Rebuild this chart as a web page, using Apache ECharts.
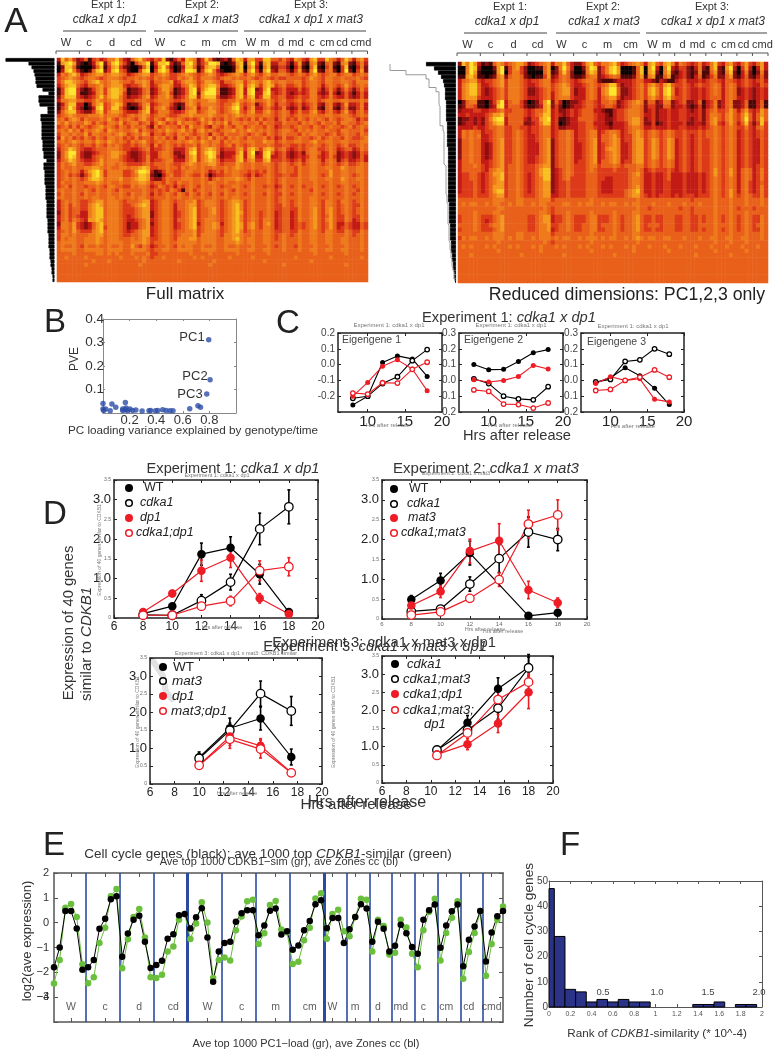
<!DOCTYPE html>
<html><head><meta charset="utf-8">
<script src="https://cdn.jsdelivr.net/npm/echarts@6/dist/echarts.min.js"></script>
<style>html,body{margin:0;padding:0;background:#fff}#c{width:773px;height:1050px;filter:blur(0.55px)}</style>
</head><body><div id="c"></div>
<script>
// ---------- A: heat levels (0 black ... 9 bright yellow)
const heatColours=['#0a0000','#4c0808','#8a0f0f','#c21a14','#dc3a18','#e8601a','#ee7a1c','#f4981e','#f8c020','#fde62c'];
const flat='555555 555555 555555 555555 555555 555555 555555 555555 5555 5555 5555 5555 5555 5555 5555 5555';
const fullMatrix=[
"385742 351453 466853 257854 354821 353876 248521 231587 3774 4885 5464 3764 3784 4865 3586 3674",
"178972 101379 258964 204679 148893 125896 246998 101278 1794 1783 3553 1472 1672 1562 1672 1463",
"028851 000258 147842 100258 037952 013885 137885 000168 0683 0682 2442 0361 0581 0461 0481 0362",
"038963 101589 248954 100489 048973 014998 148963 100178 1794 1793 2553 1472 1692 1562 0492 0472",
"365786 345677 567765 345677 456764 456765 456764 345676 4675 4675 5665 4565 4675 4566 4566 4565",
"456765 456654 566654 556565 465654 465675 466654 566565 5654 5654 5445 5554 5765 4665 5655 5654",
"468876 546786 567765 546676 355667 346776 457765 355677 4676 5786 5665 5664 5665 4665 5665 4666",
"357885 435567 567774 344576 346776 335687 467886 334578 4786 4787 4564 4564 5665 3565 4575 4565",
"148994 212467 478875 122356 235775 123589 368995 112378 3892 3793 3453 3353 4664 2464 2464 2464",
"148994 112367 478874 122356 235674 123589 279995 112378 3893 3894 3453 2343 4663 2363 1353 1353",
"258884 323468 578864 233467 346675 234688 378884 223478 4783 4884 4553 3454 4664 3464 3353 2353",
"366775 544576 567764 445565 456665 445676 566775 445576 5675 5675 4564 4564 5664 5665 5665 5565",
"136883 302578 457874 122467 345664 212676 466665 455785 4562 4575 3554 3453 4563 2563 2473 3463",
"146973 201389 458853 101368 356753 202567 355765 456895 3573 3564 3463 2352 3562 1562 1462 2463",
"257884 322478 467764 333578 346664 334677 456775 456785 4674 4675 4565 3464 4674 3564 3574 3564",
"456765 556667 566654 565676 456654 456676 666765 565676 5665 5665 4565 4565 5665 5665 5665 4565",
"564676 465556 575465 654675 465476 565454 575645 465654 5464 6455 3564 5465 4656 5465 4566 5354",
"657565 576465 466574 566456 357645 475665 465756 574665 6556 4655 4465 5546 5654 6556 4665 5456",
"456464 654567 565465 465564 264565 546475 564365 465466 4565 5465 3455 4565 5465 4565 5456 4565",
"565756 465676 476565 567465 456576 567564 675654 566756 5765 6565 4566 5465 6565 5655 4665 5564",
"466565 574665 565676 456576 355465 465654 565365 465556 5456 5465 4565 5546 5665 5456 4565 5465",
"375645 465465 466564 546455 465645 366456 465746 546565 4655 5645 3464 4565 5456 4565 5465 4456",
"565676 566576 576565 465675 456565 565676 576566 465665 5665 5766 4565 5665 5675 5665 5665 5566",
"456565 455465 465654 454565 364565 454556 466565 456465 4565 5565 4455 4454 5565 4565 4564 4565",
"356875 433455 566654 433456 344565 333578 467875 344467 4786 4787 4564 3454 5664 4565 3455 3465",
"257995 322345 567765 322345 335665 223589 468985 233368 3792 3895 3453 2342 5665 3465 2343 2354",
"257985 322456 567754 322346 335665 322578 467984 233478 3783 3893 3453 2343 4664 3464 2343 2353",
"356875 433457 566654 332346 344566 333578 467875 344478 4674 4784 4454 3453 5665 3565 2453 3453",
"465675 544567 566565 444456 455565 445676 566775 455576 5565 5665 4565 4564 5665 4565 4564 4565",
"465565 566776 565566 566787 445565 546566 565565 565676 5565 5565 4565 5465 5665 5665 5765 5665",
"456565 357897 466664 457998 312465 445665 565345 465665 5454 5465 4565 5465 5665 5575 5665 5665",
"456454 246897 466664 456887 210356 445654 464134 455665 4353 4565 4455 4465 5665 4575 5665 4565",
"456565 457887 566675 567887 322465 556665 565356 566676 5465 5565 4565 5565 5665 5665 5765 5665",
"465565 566676 565565 566776 455465 465565 565665 565565 5565 5565 4565 5565 5565 5565 5665 5565",
"456465 545565 466554 465665 346545 354565 465565 455665 4565 5455 3465 4564 5565 4565 4565 4565",
"565565 565465 565465 555565 454546 541564 565565 565465 5565 5565 4565 5565 5465 5565 5565 5465",
"465565 465565 565565 465565 354565 465465 465465 465565 4565 5465 4465 4565 5565 4565 4565 4565",
"565565 565665 566565 565665 455565 565565 565565 565665 5565 5565 4565 5565 5665 5565 5565 5565",
"356565 445677 566654 555677 345665 455667 456665 456776 4565 5565 4565 4565 5665 4665 4665 4565",
"356465 446787 566654 456787 345665 355677 456665 456786 4565 5565 4465 4565 5665 4665 4565 4465",
"356455 446788 566654 445677 345665 355678 455675 456786 4565 5565 4455 4465 5675 4675 4565 4565",
"256455 336788 566654 445677 245665 345678 455675 456787 4565 4565 3455 3465 5675 4675 4565 4565",
"356454 336788 566654 345677 245665 345678 455665 456786 4565 4565 3455 3465 5675 4575 4465 4465",
"356465 437787 566654 334567 345665 355678 456665 456786 4565 4665 3455 3465 5675 4675 4465 3465",
"266574 323578 566654 233567 245665 345678 356676 356787 4675 4675 3455 3454 5675 4575 3354 3354",
"366574 323578 466654 233567 345665 345678 456676 456787 4675 4665 3455 3454 5675 4575 3454 3354",
"456575 444678 566654 345677 345665 455667 456665 456786 4565 5665 4455 4465 5665 4665 4465 4465",
"466565 556677 566654 455677 345665 456667 466665 466776 5565 5665 4565 4565 5665 5665 5565 4565",
"465665 566676 566655 565676 445665 466677 566665 566786 5665 5665 4565 5565 5665 5665 5665 5565",
"566665 566676 566665 566676 455665 566666 566665 566676 5665 5665 5565 5565 5665 5665 5665 5565",
"565565 465565 565565 575465 345565 465665 565565 565565 5565 5565 4565 5465 5565 5565 5565 5565",
"566665 566666 566665 566665 455665 566665 566665 566665 5665 5665 5565 5565 5665 5665 5665 5565",
"555565 555566 565655 565556 445555 555565 555655 555565 5555 5565 5555 5555 5565 5555 5565 5555",
"556555 565555 555565 556565 455655 555556 565555 556555 5565 5555 5555 5655 5555 5565 5555 5565",
"555555 555655 565555 555565 555555 565555 555565 555555 5555 5655 5555 5555 5655 5555 5555 5555",
"555555 565555 555555 555655 555555 555555 555655 555555 5555 5555 5565 5555 5555 5555 5565 5555",
flat,flat,flat,flat];
const reducedMatrix=[
"286973 121576 456775 234567 366853 224785 466785 345676 3785 4786 3654 3463 4684 3674 3574 3573",
"006982 000279 146742 001157 026963 002698 246897 000158 0793 0693 2442 1362 1682 1793 0473 0373",
"006971 000179 046642 000057 125852 001687 246897 000158 0782 0682 1342 1261 1572 1682 0362 0262",
"117861 101267 256652 101147 235652 112566 234565 111257 1671 1571 2342 1351 2462 2572 1352 1352",
"356774 344567 466654 344566 345654 345665 211123 333455 3321 3211 3453 3343 4554 3554 3454 3453",
"367885 334567 466654 334566 456764 334565 456884 233456 4675 4785 4454 3454 4565 3565 3454 3354",
"367885 323456 466654 223456 456774 233565 367995 223456 4786 4896 3454 3343 4565 3565 2343 2343",
"367885 323456 466654 223456 356774 233565 367995 223456 4786 4896 3454 3343 4565 3565 2343 2343",
"367774 333456 466654 333456 356664 333565 356774 233456 4675 4785 4454 3343 4555 3565 3343 2343",
"025661 102479 356642 012479 253012 234554 355652 345676 2552 3662 3452 2351 3462 3562 2351 1351",
"125541 102389 355542 112378 242012 334554 345542 345665 2442 2552 3342 1241 3462 3562 2351 1351",
"233344 334456 445554 345578 342234 345553 321134 456665 2342 3343 3443 2342 4564 4575 3574 3475",
"334333 345778 455554 345688 343234 345554 332134 456665 3342 3343 3443 3342 4665 4675 4685 3575",
"122323 246899 355553 244789 341123 355554 332234 456775 2342 3343 3443 2342 4675 4675 4695 3585",
"123323 245788 355552 234688 340123 344553 332133 346775 2241 2343 3342 2332 4674 3575 3584 2484",
"333343 345566 445544 344566 342233 344554 333233 345665 3343 3343 3443 3343 4565 4565 4464 3564",
"365655 344566 445654 344566 345565 344566 345665 345676 4565 4565 4454 4454 5565 4565 3454 3454",
"365656 334566 445654 334566 345565 344566 355675 344676 4565 4565 4454 3454 5565 4565 3454 3454",
"255655 334567 445654 334567 245565 344567 355676 344677 4576 4576 3454 3454 4565 4565 3454 3354",
"255655 323567 445654 333567 245565 334567 345676 334677 4576 4576 3454 3454 4565 4565 3454 3354",
"255655 323567 445654 333567 245565 334567 346776 334677 4576 4576 3454 3454 4565 4565 3454 3354",
"255655 323567 445654 333567 245565 334567 345676 334677 4576 4576 3454 3454 4565 4565 3454 3354",
"255655 323567 445654 334567 245565 334567 345676 334677 4576 4576 3454 3454 4565 4565 3454 3354",
"355655 334567 445654 334567 245565 344567 355676 344677 4565 4565 3454 3454 4565 4565 3454 3354",
"355565 434567 455654 445677 245565 444566 455565 455566 4565 4565 3454 3454 4565 4565 3454 3454",
"355555 435677 455654 445788 234565 444565 444454 445565 3454 4454 3454 3454 4575 4575 3565 3464",
"344554 345778 455654 345788 234565 444555 444444 445675 3343 3453 3343 3343 4575 4575 3565 3464",
"344554 345678 455654 345688 234564 444555 443344 445665 3343 3453 3343 3343 4565 4565 3565 3464",
"344454 345677 455654 345677 234454 444555 433344 445665 3343 3443 3343 3343 4565 4565 3564 3454",
"344454 345777 455654 345677 234454 444555 433344 445675 3343 3443 3343 3343 4565 4565 3564 3464",
"344454 345788 455654 345677 234454 444555 433344 456785 3343 3443 3343 3343 4565 4575 3564 3464",
"444454 445677 455654 445677 334454 444555 444444 456775 4343 4443 4344 4344 4565 4575 4565 4464",
"555555 555666 555665 555666 455555 555565 555555 555565 5555 5555 5555 4555 5565 5565 5565 5565",
"565665 565665 565665 565665 555665 565665 565665 565665 5565 5565 5565 5565 5565 5565 5565 5565",
"555555 555566 555555 555565 455555 555555 555555 555565 5455 5555 5455 4555 5565 5565 4555 4555",
"555565 555665 555555 555665 455565 555565 555565 555665 5555 5555 5555 4555 5565 5565 5565 5555",
"455565 444567 555555 445677 344565 444566 444565 455675 4454 4555 4455 4454 5565 4565 4565 4465",
"455565 434567 555555 445677 344565 444566 444565 455675 4454 4555 4455 4454 5565 4565 4565 4465",
"555565 445667 555555 445667 445565 445566 455565 455675 4555 4555 4455 4455 5565 5565 4565 4565",
"455565 444567 555555 445667 345565 445566 445565 455675 4454 4555 4455 4454 5565 4565 4565 4465",
"555555 555666 555665 555666 455555 555565 555565 555665 5555 5555 5555 5555 5565 5565 5565 5565",
"465665 565666 565665 565666 565665 565666 565665 565676 5665 5665 5565 5565 5665 5665 5665 5565",
"555555 555565 555555 555565 455555 555565 555555 555565 5555 5555 5555 5555 5565 5565 5565 5555",
"565655 565655 565655 565655 565655 565655 565655 565655 5655 5655 5655 5655 5655 5655 5655 5655",
"555555 555565 555555 555655 555555 555565 555555 555655 5555 5565 5555 5555 5565 5555 5565 5555",
"555655 555555 555565 555555 555655 555555 555565 555555 5555 5555 5555 5655 5555 5565 5555 5555",
flat,flat,flat,flat,flat,flat];
const leftDendro=[49,26,23,21,20,19,19,18,12,6,16,16,15,7,7,14,14,13,13,13,13,13,12,12,12,11,11,8,11,11,10,10,10,10,9,9,9,9,8,8,8,8,8,7,7,7,7,6,6,6,6,5,5,5,4,4,3,3,2,2];
const rightDendro=[30,22,18,15,13,12,11,11,11,10,10,10,10,10,9,9,9,9,9,9,8,8,8,8,8,8,8,8,8,8,8,8,8,7,7,7,7,7,6,6,6,6,5,5,5,4,4,3,3,2,2,1];
const rightTree=[66,66,50,30,27,27,20,17,17,17,16,16,16,16,16,13,12,12,12,12,12,12,12,12,10,10,10,10,10,10,10,9,9,8,8,8,8,8,7,7,7,7,6,6,5,5,4,4,3,2,2,1];
const sampleNames=['W','c','d','cd','W','c','m','cm','W','m','d','md','c','cm','cd','cmd'];
const sampleSizes=[6,6,6,6,6,6,6,6,4,4,4,4,4,4,4,4];
const sampleLabelX=[66,89,112,136,160,183,206,229,251,265,281,296,312,327,342,361];

// ---------- B
const pveLoading=[0.795,0.805,0.78,0,0,0.005,0.02,0.054,0.067,0.096,0.168,0.148,0.168,0.183,0.202,0.222,0.247,0.294,0.346,0.358,0.395,0.412,0.449,0.474,0.504,0.526,0.652,0.714,0.733,0.148,0.173];
const pveValue=[0.312,0.142,0.081,0.04,0.017,0.011,0.017,0.01,0.038,0.025,0.045,0.011,0.014,0.011,0.017,0.011,0.013,0.009,0.01,0.011,0.01,0.011,0.014,0.011,0.01,0.01,0.018,0.031,0.024,0.017,0.021];

// ---------- C
const eigenHrs=[8,10,12,14,16,18];
const e1WT=[-0.255,-0.2,0.013,0.055,0.036,-0.075], e1cdka1=[-0.213,-0.2,-0.12,-0.077,0.025,0.095], e1dp1=[-0.2,-0.113,-0.01,0.03,-0.028,-0.165], e1both=[-0.18,-0.187,-0.115,-0.117,-0.03,0.015];
const e2WT=[0.1,0.068,0.07,0.12,0.175,0.195], e2cdka1=[0.01,-0.02,-0.1,-0.117,-0.123,-0.04], e2dp1=[0.004,-0.01,0,0.025,0.095,0.072], e2both=[-0.06,-0.07,-0.15,-0.153,-0.175,-0.143];
const e3WT=[-0.013,0.017,0.08,0.03,-0.05,-0.153], e3cdka1=[-0.01,0.006,0.12,0.13,0.2,0.166], e3dp1=[-0.02,0.023,0,0.01,-0.12,-0.136], e3both=[-0.064,-0.057,0,0.02,0.066,0.02];

// ---------- D
const hrs6=[8,10,12,14,16,18];
const d1WT=[0.11,0.3,1.62,1.78,1.11,0.15], d1WTe=[0.03,0.05,0.28,0.28,0.25,0.05];
const d1c=[0.08,0.07,0.44,0.91,2.26,2.82], d1ce=[0.02,0.02,0.15,0.2,0.4,0.43];
const d1d=[0.15,0.62,1.2,1.53,0.5,0.1], d1de=[0.05,0.08,0.27,0.25,0.12,0.03];
const d1b=[0.07,0.07,0.3,0.43,1.2,1.3], d1be=[0.02,0.02,0.1,0.12,0.25,0.23];
const d2WThrs=[8,10,12,16,18];
const d2WT=[0.49,0.97,1.66,0.08,0.16], d2WTe=[0.1,0.18,0.3,0.03,0.03];
const d2c=[0.19,0.25,0.88,1.52,2.19,2.0], d2ce=[0.03,0.05,0.18,0.35,0.38,0.28];
const d2m=[0.34,0.69,1.71,1.97,0.73,0.41], d2me=[0.05,0.15,0.3,0.43,0.22,0.12];
const d2b=[0.1,0.18,0.52,0.99,2.39,2.62], d2be=[0.02,0.03,0.05,0.17,0.35,0.38];
const hrs3a=[10,12.5,15,17.5];
const d3WT=[0.74,1.55,1.82,0.75], d3WTe=[0.15,0.28,0.32,0.22];
const d3m=[0.71,1.49,2.51,2.03], d3me=[0.1,0.2,0.35,0.4];
const d3d=[0.52,1.32,1.06,0.32], d3de=[0.1,0.25,0.2,0.05];
const d3b=[0.52,1.24,0.97,0.31], d3be=[0.1,0.25,0.25,0.05];
const hrs3b=[10.5,13,15.5,18];
const d4c=[0.9,1.66,2.6,3.19], d4ce=[0.08,0.2,0.3,0.35];
const d4cm=[0.91,1.46,2.06,3.17], d4cme=[0.05,0.1,0.3,0.3];
const d4cd=[0.79,1.07,1.64,2.5], d4cde=[0.05,0.15,0.25,0.45];
const d4b=[0.76,1.38,2.3,2.78], d4be=[0.05,0.1,0.3,0.3];

// ---------- E (80 samples in order)
const zonesBlack=[-1.8,-1,0.47,0.47,-0.23,-1.9, -1.8,-1.5,-0.24,0.16,0.94,1.06, -1.37,-0.44,0.12,0.28,-0.77,-1.83, -1.7,-1.53,-0.65,-0.47,0.3,0.35,
 -0.23,0.22,0.58,-0.6,-2.38,-1.16, -0.82,-0.77,0.04,0.38,0.5,0.5, -0.51,-0.11,0.48,0.57,-0.48,-0.35, -1.09,-0.92,-0.31,0.07,0.74,0.9,
 -0.22,0.19,0.19,-0.82, -0.27,0.23,0.74,0.57, -0.77,0.04,-0.24,-1.16, -0.93,-0.08,-0.43,-0.98, -1.25,0.12,0.5,0.73, -1.01,-0.11,0.46,0.73, -1.75,-0.69,-0.15,0.47, -1.56,-0.4,0.26,0.47];
const similarGreen=[-2.45,-1.5,0.6,0.75,0.23,-1.67, -2.44,-2.2,-0.82,-0.2,1.06,1.36, -1.84,-0.67,0.23,0.55,-0.6,-2.2, -2.23,-2.1,-1.16,-0.96,0.12,0.35,
 -0.66,-0.03,0.82,0.01,-2.23,-1.5, -1.4,-1.52,-0.31,0.25,0.86,0.92, -0.86,-0.43,0.71,0.87,-0.28,-0.39, -1.66,-1.57,-0.71,-0.2,0.97,1.18,
 -0.65,0.35,0.52,-0.35, -0.55,0.23,0.96,0.92, -1.16,0.12,-0.13,-1.28, -1.21,0.12,-0.19,-1.25, -1.8,-0.31,0.44,0.96, -1.52,-0.42,0.2,0.86, -2.26,-1.18,-0.42,0.47, -2.14,-0.86,0.12,0.65];
const eBoundaries=[6.5,12.5,18.5,24.5,30.5,36.5,42.5,48.5,52.5,56.5,60.5,64.5,68.5,72.5,76.5];
const eHeavy=[24.5,48.5];
const eTickPos=[4,10,16,22,28,34,40,46,50,54,58,62,66,70,74,78];

// ---------- F
const rankBin=[0,0.1,0.2,0.3,0.4,0.5,0.6,0.7,0.8,0.9,1.4,1.5,1.6,1.8,1.9];
const rankCount=[47,28,7,6,2,3,2,3,2,2,1,1,2,1,1];

// ---------- option building
const sans='"Liberation Sans", Arial, sans-serif';
const grids=[],xAxes=[],yAxes=[],series=[],gfx=[];
const axisBits=(c,w,tl)=>({axisLine:{show:true,onZero:false,lineStyle:{color:c,width:w}},axisTick:{show:true,inside:true,length:tl,lineStyle:{color:c,width:1}},splitLine:{show:false}});
function addBox(r,xc,yc,st={}){
  const g=grids.length,c=st.color||'#222',w=st.width||1.5,tl=st.tick||3;
  grids.push({left:r[0],top:r[1],width:r[2]-r[0],height:r[3]-r[1],show:false});
  const xi=xAxes.length,yi=yAxes.length;
  const tickX=xc.ticks?{customValues:xc.ticks}:{};
  const mkx=(pos,lab)=>{const b=axisBits(c,w,tl);Object.assign(b.axisTick,tickX);
    return Object.assign({gridIndex:g,type:'value',position:pos,min:xc.min,max:xc.max,interval:xc.interval},b,{axisLabel:lab?xc.label:{show:false}});};
  xAxes.push(mkx('bottom',true),mkx('top',false));
  const mky=(pos,lab)=>Object.assign({gridIndex:g,type:'value',position:pos,min:yc.min,max:yc.max,interval:yc.interval},axisBits(c,w,tl),{axisLabel:lab?yc.label:{show:false}});
  yAxes.push(mky('left',true),mky('right',false));
  return {x:xi,y:yi};
}
function addLine(ax,xs,ys,col,filled,size,lw,errs){
  if(errs) series.push({type:'custom',xAxisIndex:ax.x,yAxisIndex:ax.y,clip:false,z:1,silent:true,
    data:xs.map((x,i)=>[x,ys[i],errs[i]]),encode:{x:0,y:1},
    renderItem:(p,api)=>{const x=api.value(0),y=api.value(1),e=api.value(2);
      const a=api.coord([x,y+e]),b=api.coord([x,y-e]),st={stroke:col,lineWidth:1.6};
      const seg=(x1,y1,x2,y2)=>({type:'line',shape:{x1,y1,x2,y2},style:st});
      return {type:'group',children:[seg(a[0],a[1],b[0],b[1]),seg(a[0]-1.5,a[1],a[0]+1.5,a[1]),seg(b[0]-1.5,b[1],b[0]+1.5,b[1])]};}});
  series.push({type:'line',xAxisIndex:ax.x,yAxisIndex:ax.y,clip:false,silent:true,z:2,animation:false,
    data:xs.map((x,i)=>[x,ys[i]]),symbol:'circle',symbolSize:size,showSymbol:true,
    lineStyle:{color:col,width:lw},
    itemStyle:filled?{color:col,borderColor:col,borderWidth:0}:{color:'#fff',borderColor:col,borderWidth:Math.max(1.3,lw)}});
}
function heat(rect,rows){
  const g=grids.length;
  grids.push({left:rect[0],top:rect[1],width:rect[2]-rect[0],height:rect[3]-rect[1],show:false});
  const xi=xAxes.length,yi=yAxes.length;
  const data=[];
  rows.forEach((row,r)=>{row.replace(/\s/g,'').split('').forEach((ch,c)=>data.push([c,r,+ch]));});
  xAxes.push({gridIndex:g,type:'category',show:false,data:Array.from({length:80},(_,i)=>i)});
  yAxes.push({gridIndex:g,type:'category',show:false,inverse:true,data:rows.map((_,i)=>i)});
  series.push({type:'heatmap',xAxisIndex:xi,yAxisIndex:yi,data,silent:true,itemStyle:{borderWidth:0},progressive:0,animation:false});
}
function dendro(rect,maxv,depths,tree){
  const g=grids.length;
  grids.push({left:rect[0],top:rect[1],width:rect[2]-rect[0],height:rect[3]-rect[1],show:false});
  const xi=xAxes.length,yi=yAxes.length;
  xAxes.push({gridIndex:g,type:'value',show:false,inverse:true,min:0,max:maxv,splitLine:{show:false}});
  yAxes.push({gridIndex:g,type:'category',show:false,inverse:true,data:depths.map((_,i)=>i)});
  if(tree) series.push({type:'line',xAxisIndex:xi,yAxisIndex:yi,data:tree.map((v,i)=>[v,i]),step:'middle',symbol:'none',silent:true,lineStyle:{color:'#999',width:1},animation:false});
  series.push({type:'bar',xAxisIndex:xi,yAxisIndex:yi,data:depths,barWidth:'100%',silent:true,itemStyle:{color:'#000',borderColor:'#000',borderWidth:0.8},animation:false});
}
// text helpers
function T(text,x,y,size,o={}){
  return {type:'text',x,y,rotation:o.rot||0,silent:true,z:o.z||100,style:{text,fontSize:size,fontFamily:sans,fontStyle:o.italic?'italic':'normal',
    fill:o.color||'#222',textAlign:o.align||'center',textVerticalAlign:'middle',verticalAlign:'middle',rich:o.rich}};
}
const italicRich=(s,col)=>({i:{fontStyle:'italic',fontSize:s,fontFamily:sans,fill:col||'#222'},n:{fontSize:s,fontFamily:sans,fill:col||'#222'}});
function add(...a){gfx.push(...a);}
const tiny=(t,x,y,s,rot)=>T(t,x,y,s||5.5,{color:'#777',rot:rot||0});

// A
heat([57,58,368,282],fullMatrix);
heat([458,62,768,283],reducedMatrix);
dendro([5,58,54.5,282],49.5,leftDendro);
dendro([390,62,456,283],66,rightDendro,rightTree);
function headers(x0,w,yShift,xs,ex,eline){
  ex.forEach(e=>{add(T(e[0],e[1],5+yShift,11,{color:'#333'}),T(e[2],e[3],20+yShift,12,{italic:true,color:'#333'}));});
  eline.forEach(l=>add({type:'line',silent:true,shape:{x1:l[0],y1:31+yShift,x2:l[1],y2:31+yShift},style:{stroke:'#444',lineWidth:1}}));
  sampleNames.forEach((n,i)=>add(T(n,xs[i],43+yShift,11,{color:'#333'})));
  const yb=51+yShift;
  add({type:'line',silent:true,shape:{x1:x0,y1:yb,x2:x0+w,y2:yb},style:{stroke:'#555',lineWidth:1}});
  let col=0;
  [0,...sampleSizes].forEach(s=>{col+=s;const x=x0+w*col/80;add({type:'line',silent:true,shape:{x1:x,y1:yb,x2:x,y2:yb+3},style:{stroke:'#555',lineWidth:1}});});
}
headers(56,311.5,0,sampleLabelX,[['Expt 1:',108,'cdka1 x dp1',105],['Expt 2:',202,'cdka1 x mat3',203],['Expt 3:',311,'cdka1 x dp1 x mat3',311]],[[63,146],[154,238],[244,366]]);
headers(457,311,2,sampleLabelX.map(x=>x+401.5),[['Expt 1:',510,'cdka1 x dp1',507],['Expt 2:',603,'cdka1 x mat3',604],['Expt 3:',712,'cdka1 x dp1 x mat3',713]],[[464,547],[556,640],[646,767]]);
add(T('Full matrix',185,294,17),T('Reduced dimensions: PC1,2,3 only',627,295,17.7));
add(T('A',16,22,35),T('B',55,323,33),T('C',288,324,33),T('D',55,515,33),T('E',54,846,33),T('F',570,846,33));

// B
const bAx=addBox([103,319,236,413],{min:0,max:1,interval:0.2,label:{show:true,fontSize:13,margin:1,color:'#333',fontFamily:sans,formatter:v=>v>0&&v<1?v.toFixed(1):''}},
 {min:0,max:0.4,interval:0.1,label:{show:true,fontSize:13.5,margin:-1,color:'#333',fontFamily:sans,formatter:v=>v>0?v.toFixed(1):''}},{color:'#888',width:1,tick:2});
series.push({type:'scatter',xAxisIndex:bAx.x,yAxisIndex:bAx.y,clip:false,silent:true,symbolSize:5.5,itemStyle:{color:'#2d4ea6'},data:pveLoading.map((x,i)=>[x,pveValue[i]]),animation:false});
add(T('PVE',75,359,12,{rot:Math.PI/2,color:'#333'}),T('PC1',192,337,13,{color:'#333'}),T('PC2',195,376,13,{color:'#333'}),T('PC3',190,394,13,{color:'#333'}),
 T('PC loading variance explained by genotype/time',193,431,11.7,{color:'#333'}));

// C
const cX={min:6,max:20,interval:2,ticks:[10,15,20],label:{show:true,fontSize:15,margin:2,color:'#222',fontFamily:sans,customValues:[10,15,20]}};
const cY=(min,max,fmt)=>({min,max,interval:0.1,label:{show:true,fontSize:10,margin:3,color:'#444',fontFamily:sans,formatter:fmt}});
const fmtC=v=>{const s=(+v).toFixed(1);return s==='-0.0'?'0.0':s;};
const c1=addBox([338,333,442,412],cX,cY(-0.3,0.2,v=>v<-0.25?'':fmtC(v)));
const c2=addBox([459,333,563,412],cX,cY(-0.2,0.3,fmtC));
const c3=addBox([581,333,684,412],cX,cY(-0.2,0.3,v=>Math.abs(v)<1e-6?'-0.0':fmtC(v)));
const black='#000',red='#ee1c25';
[[c1,e1WT,e1cdka1,e1dp1,e1both],[c2,e2WT,e2cdka1,e2dp1,e2both],[c3,e3WT,e3cdka1,e3dp1,e3both]].forEach(s=>{
  addLine(s[0],eigenHrs,s[1],black,true,5,1.1);addLine(s[0],eigenHrs,s[2],black,false,4.5,1.1);
  addLine(s[0],eigenHrs,s[3],red,true,5,1.1);addLine(s[0],eigenHrs,s[4],red,false,4.5,1.1);});
add(T('Experiment 1: {i|cdka1 x dp1}',509,318,14.7,{rich:italicRich(14.7,'#333'),color:'#333'}));
[[389,325],[511,325],[633,326]].forEach(p=>add(tiny('Experiment 1: cdka1 x dp1',p[0],p[1],6)));
[[388,425],[510,425],[633,426]].forEach(p=>add(tiny('Hrs after release',p[0],p[1],6)));
[['Eigengene 1',342,340],['Eigengene 2',464,340],['Eigengene 3',587,342]].forEach(e=>add(T(e[0],e[1],e[2],10.5,{align:'left',color:'#444'})));
add(T('Hrs after release',517,436,14.6,{color:'#333'}));

// D
const dFmt=v=>Number.isInteger(v)&&v>0?'{b|'+v.toFixed(1)+'}':'{s|'+(v===0?'0':v)+'}';
const dYlab=s=>({show:true,margin:3,formatter:dFmt,rich:{b:{fontSize:s,color:'#222',fontFamily:sans},s:{fontSize:5,color:'#666',fontFamily:sans}}});
const dX=(size,col,m)=>({min:6,max:20,interval:2,label:{show:true,fontSize:size,margin:m,color:col,fontFamily:sans}});
const dY=s=>({min:0,max:3.5,interval:0.5,label:dYlab(s)});
const d1=addBox([114,480,318,618],dX(12,'#222',3),dY(13));
const d2=addBox([382,480,587,619],dX(6,'#666',2),dY(13));
const d3=addBox([150,658,322,784],dX(12,'#222',3),dY(13));
const d4=addBox([382,656,553,783],dX(12,'#222',3),dY(13));
const ms=8.5;
[[d1,hrs6,d1WT,d1WTe,black,true],[d1,hrs6,d1c,d1ce,black,false],[d1,hrs6,d1d,d1de,red,true],[d1,hrs6,d1b,d1be,red,false],
 [d2,d2WThrs,d2WT,d2WTe,black,true],[d2,hrs6,d2c,d2ce,black,false],[d2,hrs6,d2m,d2me,red,true],[d2,hrs6,d2b,d2be,red,false],
 [d3,hrs3a,d3WT,d3WTe,black,true],[d3,hrs3a,d3m,d3me,black,false],[d3,hrs3a,d3d,d3de,red,true],[d3,hrs3a,d3b,d3be,red,false],
 [d4,hrs3b,d4c,d4ce,black,true],[d4,hrs3b,d4cm,d4cme,black,false],[d4,hrs3b,d4cd,d4cde,red,true],[d4,hrs3b,d4b,d4be,red,false]
].forEach(s=>addLine(s[0],s[1],s[2],s[4],s[5],ms,1.2,s[3]));
function legend(mx,rows,size){
  rows.forEach(r=>{const [label,col,filled,tx,y,it]=r;
    add({type:'circle',silent:true,z:90,shape:{cx:mx,cy:y,r:filled?4:3.3},style:{fill:filled?col:'#fff',stroke:col,lineWidth:filled?0:1.5}});
    add(T(label,tx,y,size,{align:'left',italic:it,color:'#222'}));});
}
legend(129,[['WT',black,true,144,488,false],['cdka1',black,false,140,503,true],['dp1',red,true,140,518,true],['cdka1;dp1',red,false,136,533,true]],12.5);
legend(394,[['WT',black,true,409,489,false],['cdka1',black,false,407,504,true],['mat3',red,true,408,518,true],['cdka1;mat3',red,false,401,533,true]],12.5);
legend(163,[['WT',black,true,173,667,false],['mat3',black,false,172,681,true],['dp1',red,true,172,696,true],['mat3;dp1',red,false,171,711,true]],13.5);
legend(395,[['cdka1',black,true,407,664,true],['cdka1;mat3',black,false,403,679,true],['cdka1;dp1',red,true,403,694,true],['cdka1;mat3;',red,false,403,710,true]],13);
add(T('dp1',424,724,13,{italic:true,align:'left'}));
add({type:'polyline',silent:true,z:0,shape:{points:[[153,661],[163,676],[166,692],[172,699]]},style:{stroke:'#e2e2e2',lineWidth:6,fill:null,lineCap:'round'}});
add(T('Experiment 1: {i|cdka1 x dp1}',233,469,14.6,{rich:italicRich(14.6,'#333'),color:'#333'}),
 T('Experiment 2: {i|cdka1 x mat3}',486,469,15,{rich:italicRich(15,'#333'),color:'#333'}),
 T('Experiment 3: cdka1 x mat3 x dp1',384,643,14.8,{color:'#333'}),
 T('Experiment 3: {i|cdka1 x mat3 x dp1}',375,647,14.8,{rich:italicRich(14.8,'#333'),color:'#333'}),
 T('Hrs after release',367,803,16,{color:'#333'}),T('Hrs after release',356,805,15,{color:'#333'}),
 T('Expression of 40 genes',69,623,14.8,{rot:Math.PI/2,color:'#333'}),
 T('similar to {i|CDKB1}',87,644,15,{rot:Math.PI/2,rich:italicRich(15,'#333'),color:'#333'}));
add(tiny('Experiment 1: cdka1 x dp1',217,475),tiny('Experiment 2: cdka1 x mat3',456,473),tiny('Experiment 3: cdka1 x dp1 x mat3: CDKB1 similar',236,653),
 tiny('Hrs after release',222,627),tiny('Hrs after release',485,629),tiny('Hrs after release',237,793),tiny('Hrs after release',503,631),
 tiny('Expression of 40 genes similar to CDKB1',100,550,5,Math.PI/2),tiny('Expression of 40 genes similar to CDKB1',138,722,5,Math.PI/2),tiny('Expression of 40 genes similar to CDKB1',334,722,5,Math.PI/2));

// E
const eIdx=zonesBlack.map((_,i)=>i+1);
const eAx=addBox([54,873,503,1022],{min:1,max:80,interval:79,ticks:eTickPos,label:{show:false}},
 {min:-4,max:2,interval:1,label:{show:true,fontSize:11,margin:5,color:'#333',fontFamily:sans,formatter:v=>v<-3.5?'':String(v).replace('-','\u2212')}},{color:'#555',width:1.5,tick:4});
addLine(eAx,eIdx,similarGreen,'#6abf3c',true,6.5,1);
addLine(eAx,eIdx,zonesBlack,'#000',true,6.5,1);
series.push({type:'scatter',xAxisIndex:eAx.x,yAxisIndex:eAx.y,silent:true,symbolSize:0,z:3,animation:false,data:eTickPos.map(x=>[x,-3.4]),
  label:{show:true,position:'inside',fontSize:10.5,color:'#333',fontFamily:sans,formatter:p=>sampleNames[p.dataIndex]},
  markLine:{silent:true,symbol:'none',animation:false,label:{show:false},z:1,
    data:eBoundaries.map(b=>({xAxis:b,lineStyle:{color:'#2b4ba3',type:'solid',width:eHeavy.includes(b)?3:1.6}}))}});
add(T('Cell cycle genes (black); ave 1000 top {i|CDKB1}-similar (green)',268,854,13.5,{rich:italicRich(13.5,'#333'),color:'#333'}),
 T('Ave top 1000 CDKB1\u2212sim (gr), ave Zones cc (bl)',279,862,11,{color:'#333'}),
 T('Ave top 1000 PC1\u2212load (gr), ave Zones cc (bl)',306,1044,11,{color:'#333'}),
 T('log2(ave expression)',27,941,13,{rot:Math.PI/2,color:'#333'}),T('\u22124',43,997,11,{color:'#333'}));

// F
const fAx=addBox([549,881,762,1007],{min:0,max:2,interval:0.2,label:{show:true,fontSize:7,margin:4,color:'#555',fontFamily:sans,formatter:v=>+(+v).toFixed(1)}},
 {min:0,max:50,interval:10,label:{show:true,fontSize:10,margin:1,color:'#444',fontFamily:sans}},{color:'#555',width:1,tick:3});
series.push({type:'custom',xAxisIndex:fAx.x,yAxisIndex:fAx.y,silent:true,data:rankBin.map((x,i)=>[x,rankCount[i]]),encode:{x:0,y:1},animation:false,
  renderItem:(p,api)=>{const x=api.value(0),y=api.value(1);const a=api.coord([Math.max(x-0.05,0),y]),b=api.coord([x+0.05,0]);
    return {type:'rect',shape:{x:a[0],y:a[1],width:b[0]-a[0],height:b[1]-a[1]},style:{fill:'#2a3388',stroke:'#000',lineWidth:1}};}});
add(T('Number of cell cycle genes',529,945,13.7,{rot:Math.PI/2,color:'#333'}),
 T('Rank of {i|CDKB1}-similarity (* 10^-4)',657,1034,11.7,{rich:italicRich(11.7,'#333'),color:'#333'}),
 T('0.5',603,992,9.5,{color:'#444'}),T('1.0',657,992,9.5,{color:'#444'}),T('1.5',708,992,9.5,{color:'#444'}),T('2.0',759,992,9.5,{color:'#444'}));

const chart=echarts.init(document.getElementById('c'),null,{renderer:'canvas'});
chart.setOption({animation:false,backgroundColor:'#fff',
  visualMap:{show:false,type:'continuous',min:0,max:9,seriesIndex:[0,1],inRange:{color:heatColours}},
  grid:grids,xAxis:xAxes,yAxis:yAxes,series,graphic:{elements:gfx}});
</script></body></html>
